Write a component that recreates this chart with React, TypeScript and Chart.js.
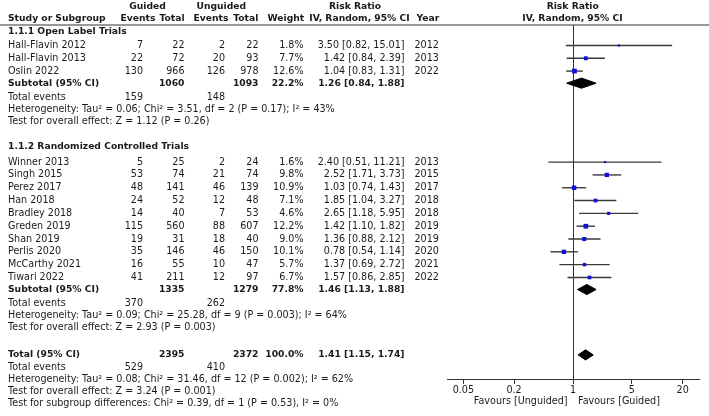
import React, { useEffect, useRef } from "react";
import { Chart, registerables } from "chart.js";

Chart.register(...registerables);

// ---------- DATA ----------
const subgroupTitles = ["1.1.1 Open Label Trials", "1.1.2 Randomized Controlled Trials"];

const studyNames1 = ["Hall-Flavin 2012", "Hall-Flavin 2013", "Oslin 2022"];
const guidedEvents1 = [7, 22, 130];
const guidedTotal1 = [22, 72, 966];
const unguidedEvents1 = [2, 20, 126];
const unguidedTotal1 = [22, 93, 978];
const weights1 = [1.8, 7.7, 12.6];
const rr1 = [3.5, 1.42, 1.04];
const lower1 = [0.82, 0.84, 0.83];
const upper1 = [15.01, 2.39, 1.31];
const years1 = [2012, 2013, 2022];

const studyNames2 = ["Winner 2013", "Singh 2015", "Perez 2017", "Han 2018", "Bradley 2018", "Greden 2019", "Shan 2019", "Perlis 2020", "McCarthy 2021", "Tiwari 2022"];
const guidedEvents2 = [5, 53, 48, 24, 14, 115, 19, 35, 16, 41];
const guidedTotal2 = [25, 74, 141, 52, 40, 560, 31, 146, 55, 211];
const unguidedEvents2 = [2, 21, 46, 12, 7, 88, 18, 46, 10, 12];
const unguidedTotal2 = [24, 74, 139, 48, 53, 607, 40, 150, 47, 97];
const weights2 = [1.6, 9.8, 10.9, 7.1, 4.6, 12.2, 9.0, 10.1, 5.7, 6.7];
const rr2 = [2.4, 2.52, 1.03, 1.85, 2.65, 1.42, 1.36, 0.78, 1.37, 1.57];
const lower2 = [0.51, 1.71, 0.74, 1.04, 1.18, 1.1, 0.88, 0.54, 0.69, 0.86];
const upper2 = [11.21, 3.73, 1.43, 3.27, 5.95, 1.82, 2.12, 1.14, 2.72, 2.85];
const years2 = [2013, 2015, 2017, 2018, 2018, 2019, 2019, 2020, 2021, 2022];

const subtotalGuidedTotal = [1060, 1335];
const subtotalUnguidedTotal = [1093, 1279];
const subtotalWeight = [22.2, 77.8];
const subtotalRR = [1.26, 1.46];
const subtotalLower = [0.84, 1.13];
const subtotalUpper = [1.88, 1.88];
const subtotalGuidedEvents = [159, 370];
const subtotalUnguidedEvents = [148, 262];
const subtotalHeterogeneity = [
  "Heterogeneity: Tau² = 0.06; Chi² = 3.51, df = 2 (P = 0.17); I² = 43%",
  "Heterogeneity: Tau² = 0.09; Chi² = 25.28, df = 9 (P = 0.003); I² = 64%",
];
const subtotalEffect = [
  "Test for overall effect: Z = 1.12 (P = 0.26)",
  "Test for overall effect: Z = 2.93 (P = 0.003)",
];

const totalGuidedTotal = [2395];
const totalUnguidedTotal = [2372];
const totalWeight = [100.0];
const totalRR = [1.41];
const totalLower = [1.15];
const totalUpper = [1.74];
const totalGuidedEvents = [529];
const totalUnguidedEvents = [410];
const totalTexts = [
  "Heterogeneity: Tau² = 0.08; Chi² = 31.46, df = 12 (P = 0.002); I² = 62%",
  "Test for overall effect: Z = 3.24 (P = 0.001)",
  "Test for subgroup differences: Chi² = 0.39, df = 1 (P = 0.53), I² = 0%",
];

const xTicks = [0.05, 0.2, 1, 5, 20];
const favoursLabels = ["Favours [Unguided]", "Favours [Guided]"];

// ---------- LAYOUT / STYLE ----------
const W = 709;
const H = 416;
const FONT = "'DejaVu Sans', Verdana, sans-serif";
const REG = 9.6;
const BOLD = 9.2;
const TEXT = "#1a1a1a";
const COL = { label: 8, ge: 143, gt: 184.5, ue: 225, ut: 258.5, w: 303.5, rr: 404.5, yr: 414.5 };
const ROW_PX = 12.75;
const ORIGIN_PX = 32;
const TOP_PX = 25;
const AXIS_PX = 381;

type Item = { text: string; x: number; v: number; align: CanvasTextAlign; bold?: boolean };

const fmtCI = (e: number, l: number, u: number) => `${e.toFixed(2)} [${l.toFixed(2)}, ${u.toFixed(2)}]`;
const fmtW = (w: number) => `${w.toFixed(1)}%`;

function buildLayout() {
  const items: Item[] = [];
  const studies: { rr: number; lo: number; hi: number; w: number; v: number }[] = [];
  const diamonds: { e: number; lo: number; hi: number; v: number }[] = [];
  const groups = [
    { names: studyNames1, ge: guidedEvents1, gt: guidedTotal1, ue: unguidedEvents1, ut: unguidedTotal1, w: weights1, rr: rr1, lo: lower1, hi: upper1, yr: years1 },
    { names: studyNames2, ge: guidedEvents2, gt: guidedTotal2, ue: unguidedEvents2, ut: unguidedTotal2, w: weights2, rr: rr2, lo: lower2, hi: upper2, yr: years2 },
  ];
  let v = 0;
  groups.forEach((g, gi) => {
    if (gi > 0) v += 1.98;
    items.push({ text: subgroupTitles[gi], x: COL.label, v, align: "left", bold: true });
    v += gi === 0 ? 1.06 : 1.21;
    g.names.forEach((n, i) => {
      if (i > 0) v += 1.008;
      items.push({ text: n, x: COL.label, v, align: "left" });
      items.push({ text: String(g.ge[i]), x: COL.ge, v, align: "right" });
      items.push({ text: String(g.gt[i]), x: COL.gt, v, align: "right" });
      items.push({ text: String(g.ue[i]), x: COL.ue, v, align: "right" });
      items.push({ text: String(g.ut[i]), x: COL.ut, v, align: "right" });
      items.push({ text: fmtW(g.w[i]), x: COL.w, v, align: "right" });
      items.push({ text: fmtCI(g.rr[i], g.lo[i], g.hi[i]), x: COL.rr, v, align: "right" });
      items.push({ text: String(g.yr[i]), x: COL.yr, v, align: "left" });
      studies.push({ rr: g.rr[i], lo: g.lo[i], hi: g.hi[i], w: g.w[i], v });
    });
    v += 0.95;
    items.push({ text: "Subtotal (95% CI)", x: COL.label, v, align: "left", bold: true });
    items.push({ text: String(subtotalGuidedTotal[gi]), x: COL.gt, v, align: "right", bold: true });
    items.push({ text: String(subtotalUnguidedTotal[gi]), x: COL.ut, v, align: "right", bold: true });
    items.push({ text: fmtW(subtotalWeight[gi]), x: COL.w, v, align: "right", bold: true });
    items.push({ text: fmtCI(subtotalRR[gi], subtotalLower[gi], subtotalUpper[gi]), x: COL.rr, v, align: "right", bold: true });
    diamonds.push({ e: subtotalRR[gi], lo: subtotalLower[gi], hi: subtotalUpper[gi], v });
    v += 1.12;
    items.push({ text: "Total events", x: COL.label, v, align: "left" });
    items.push({ text: String(subtotalGuidedEvents[gi]), x: COL.ge, v, align: "right" });
    items.push({ text: String(subtotalUnguidedEvents[gi]), x: COL.ue, v, align: "right" });
    v += 0.96;
    items.push({ text: subtotalHeterogeneity[gi], x: COL.label, v, align: "left" });
    v += 0.94;
    items.push({ text: subtotalEffect[gi], x: COL.label, v, align: "left" });
  });
  v += 2.12;
  items.push({ text: "Total (95% CI)", x: COL.label, v, align: "left", bold: true });
  items.push({ text: String(totalGuidedTotal[0]), x: COL.gt, v, align: "right", bold: true });
  items.push({ text: String(totalUnguidedTotal[0]), x: COL.ut, v, align: "right", bold: true });
  items.push({ text: fmtW(totalWeight[0]), x: COL.w, v, align: "right", bold: true });
  items.push({ text: fmtCI(totalRR[0], totalLower[0], totalUpper[0]), x: COL.rr, v, align: "right", bold: true });
  diamonds.push({ e: totalRR[0], lo: totalLower[0], hi: totalUpper[0], v });
  v += 0.98;
  items.push({ text: "Total events", x: COL.label, v, align: "left" });
  items.push({ text: String(totalGuidedEvents[0]), x: COL.ge, v, align: "right" });
  items.push({ text: String(totalUnguidedEvents[0]), x: COL.ue, v, align: "right" });
  totalTexts.forEach((t, i) => {
    v += i === 0 ? 0.98 : 0.94;
    items.push({ text: t, x: COL.label, v, align: "left" });
  });
  return { items, studies, diamonds };
}

const headers: { text: string; x: number; y: number; align: CanvasTextAlign }[] = [
  { text: "Guided", x: 147.5, y: 6.5, align: "center" },
  { text: "Unguided", x: 221.3, y: 6.5, align: "center" },
  { text: "Risk Ratio", x: 355, y: 6.5, align: "center" },
  { text: "Risk Ratio", x: 572.7, y: 6.5, align: "center" },
  { text: "Study or Subgroup", x: 8, y: 19, align: "left" },
  { text: "Events", x: 138, y: 19, align: "center" },
  { text: "Total", x: 172, y: 19, align: "center" },
  { text: "Events", x: 211, y: 19, align: "center" },
  { text: "Total", x: 245.8, y: 19, align: "center" },
  { text: "Weight", x: 285.8, y: 19, align: "center" },
  { text: "IV, Random, 95% CI", x: 359.5, y: 19, align: "center" },
  { text: "Year", x: 427.8, y: 19, align: "center" },
  { text: "IV, Random, 95% CI", x: 572.5, y: 19, align: "center" },
];

const markerRadius = (w: number) => (1.15 * Math.sqrt(w) + 0.7) / Math.SQRT2;

export default function App() {
  const ref = useRef<HTMLCanvasElement | null>(null);
  useEffect(() => {
    const canvas = ref.current;
    if (!canvas) return;
    const { items, studies, diamonds } = buildLayout();

    const ciSets = studies.map((s) => ({
      type: "scatter" as const,
      data: [{ x: s.lo, y: s.v }, { x: s.hi, y: s.v }],
      showLine: true,
      borderColor: "#3a3a3a",
      borderWidth: 1.4,
      pointRadius: 0,
      pointHoverRadius: 0,
      order: 3,
    }));
    const markerSet = {
      type: "scatter" as const,
      data: studies.map((s) => ({ x: s.rr, y: s.v })),
      pointStyle: "rect" as const,
      pointRadius: studies.map((s) => markerRadius(s.w)),
      pointHoverRadius: studies.map((s) => markerRadius(s.w)),
      backgroundColor: "#1010d8",
      borderWidth: 0,
      order: 1,
    };
    const dh = 0.4;
    const diamondSets = diamonds.map((d) => ({
      type: "scatter" as const,
      data: [
        { x: d.lo, y: d.v },
        { x: d.e, y: d.v - dh },
        { x: d.hi, y: d.v },
        { x: d.e, y: d.v + dh },
        { x: d.lo, y: d.v },
      ],
      showLine: true,
      fill: "shape" as const,
      backgroundColor: "#000000",
      borderColor: "#000000",
      borderWidth: 1,
      pointRadius: 0,
      pointHoverRadius: 0,
      order: 2,
    }));

    const textPlugin = {
      id: "forestText",
      beforeDraw(chart: any) {
        const c = chart.ctx;
        c.save();
        c.fillStyle = "#ffffff";
        c.fillRect(0, 0, chart.width, chart.height);
        c.restore();
      },
      afterDraw(chart: any) {
        const c: CanvasRenderingContext2D = chart.ctx;
        const ys = chart.scales.y;
        const xs = chart.scales.x;
        c.save();
        c.fillStyle = TEXT;
        c.textBaseline = "middle";
        headers.forEach((h) => {
          c.font = `bold ${BOLD}px ${FONT}`;
          c.textAlign = h.align;
          c.fillText(h.text, h.x, h.y);
        });
        items.forEach((it) => {
          c.font = it.bold ? `bold ${BOLD}px ${FONT}` : `${REG}px ${FONT}`;
          c.textAlign = it.align;
          c.fillText(it.text, it.x, ys.getPixelForValue(it.v));
        });
        // header rule
        c.strokeStyle = "#333333";
        c.lineWidth = 1.2;
        c.beginPath();
        c.moveTo(0, TOP_PX);
        c.lineTo(W, TOP_PX);
        c.stroke();
        // favours labels
        const x1 = xs.getPixelForValue(1);
        c.font = `${REG}px ${FONT}`;
        c.textAlign = "right";
        c.fillText(favoursLabels[0], x1 - 5.5, 401);
        c.textAlign = "left";
        c.fillText(favoursLabels[1], x1 + 5, 401);
        c.restore();
      },
    };

    const chart = new Chart(canvas, {
      type: "scatter",
      data: { datasets: [...ciSets, markerSet, ...diamondSets] as any },
      options: {
        animation: false,
        responsive: false,
        devicePixelRatio: 1,
        layout: { padding: { left: 447, right: W - 699, top: TOP_PX, bottom: 18.5 } },
        plugins: { legend: { display: false }, tooltip: { enabled: false } },
        events: [],
        scales: {
          x: {
            type: "logarithmic",
            min: 0.032,
            max: 31.25,
            afterBuildTicks: (s: any) => {
              s.ticks = xTicks.map((value) => ({ value }));
            },
            ticks: {
              callback: (val: any) => String(val),
              font: { family: FONT, size: REG },
              color: TEXT,
              padding: 1,
              maxRotation: 0,
              autoSkip: false,
            },
            grid: {
              drawOnChartArea: true,
              color: (ctx: any) => (ctx.tick && ctx.tick.value === 1 ? "#333333" : "rgba(0,0,0,0)"),
              tickColor: "#333333",
              tickLength: 4,
              lineWidth: 1,
            },
            border: { display: true, color: "#333333", width: 1 },
          },
          y: {
            type: "linear",
            display: false,
            reverse: true,
            min: (TOP_PX - ORIGIN_PX) / ROW_PX,
            max: (AXIS_PX - ORIGIN_PX) / ROW_PX,
          },
        },
      } as any,
      plugins: [textPlugin],
    });
    return () => chart.destroy();
  }, []);

  return (
    <div style={{ position: "fixed", left: 0, top: 0, width: W, height: H, background: "#fff" }}>
      <canvas ref={ref} width={W} height={H} style={{ display: "block", width: W, height: H }} />
    </div>
  );
}
